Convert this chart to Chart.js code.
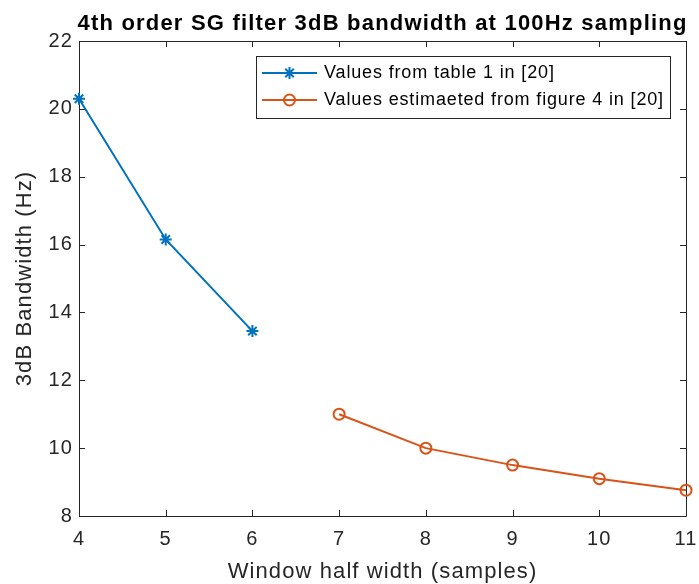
<!DOCTYPE html>
<html>
<head>
<meta charset="utf-8">
<title>SG filter bandwidth</title>
<script src="https://cdn.jsdelivr.net/npm/chart.js@4.4.1/dist/chart.umd.min.js"></script>
<style>
  html, body { margin: 0; padding: 0; background: #fff; }
  canvas { display: block; }
</style>
</head>
<body>
<canvas id="chart" width="699" height="584"></canvas>
<script>
const titleText = "4th order SG filter 3dB bandwidth at 100Hz sampling";
const xLabel = "Window half width (samples)";
const yLabel = "3dB Bandwidth (Hz)";
const seriesLabels = ["Values from table 1 in [20]", "Values estimaeted from figure 4 in [20]"];

// bandwidths listed in table 1
const tableHalfWidth = [4, 5, 6];
const tableBandwidth = [20.3, 16.15, 13.45];
// bandwidths
const figureHalfWidth = [7, 8, 9, 10, 11];
const figureBandwidth = [11.0, 10.0, 9.5, 9.1, 8.76];

const xTicks = [4, 5, 6, 7, 8, 9, 10, 11];
const yTicks = [8, 10, 12, 14, 16, 18, 20, 22];

const blue = "#0072BD";
const orange = "#D95319";
const axisGray = "#262626";
const fontFamily = '"Liberation Sans", Arial, Helvetica, sans-serif';

const toPoints = (xs, ys) => xs.map((x, i) => ({ x: x, y: ys[i] }));

// wider letter spacing for the scale text
const spacing = {
  id: "spacing",
  beforeLayout(chart) { chart.ctx.letterSpacing = "1.1px"; },
  beforeDraw(chart) { chart.ctx.letterSpacing = "1.1px"; }
};

// boxed axes with inward ticks on all four sides
const axesBox = {
  id: "axesBox",
  beforeDatasetsDraw(chart) {
    const { ctx, chartArea: a, scales: { x, y } } = chart;
    const len = 6;
    ctx.save();
    ctx.strokeStyle = axisGray;
    ctx.lineWidth = 1;
    ctx.beginPath();
    ctx.rect(Math.round(a.left) + 0.5, Math.round(a.top) + 0.5,
             Math.round(a.right - a.left), Math.round(a.bottom - a.top));
    x.ticks.forEach(t => {
      const px = Math.round(x.getPixelForValue(t.value)) + 0.5;
      ctx.moveTo(px, a.bottom); ctx.lineTo(px, a.bottom - len);
      ctx.moveTo(px, a.top); ctx.lineTo(px, a.top + len);
    });
    y.ticks.forEach(t => {
      const py = Math.round(y.getPixelForValue(t.value)) + 0.5;
      ctx.moveTo(a.left, py); ctx.lineTo(a.left + len, py);
      ctx.moveTo(a.right, py); ctx.lineTo(a.right - len, py);
    });
    ctx.stroke();
    ctx.restore();
  }
};

// title centred over the plot area
const plotTitle = {
  id: "plotTitle",
  afterDraw(chart) {
    const { ctx, chartArea: a } = chart;
    ctx.save();
    ctx.letterSpacing = "1.2px";
    ctx.font = "bold 22px " + fontFamily;
    ctx.fillStyle = "#000";
    ctx.textAlign = "center";
    ctx.textBaseline = "middle";
    ctx.fillText(titleText, (a.left + a.right) / 2, 24);
    ctx.restore();
  }
};

// boxed legend in the upper right corner
const boxLegend = {
  id: "boxLegend",
  afterDraw(chart) {
    const { ctx, chartArea: a } = chart;
    ctx.save();
    ctx.letterSpacing = "0.85px";
    ctx.font = "18px " + fontFamily;
    const textW = Math.max(...chart.data.datasets.map(d => ctx.measureText(d.label).width));
    const pad = 6, sample = 55, gap = 7, rowH = 27;
    const w = pad + sample + gap + textW + pad;
    const h = 62;
    const right = Math.round(a.right - 16);
    const left = Math.round(right - w);
    const top = Math.round(a.top + 15);
    ctx.fillStyle = "#fff";
    ctx.fillRect(left, top, right - left, h);
    ctx.strokeStyle = axisGray;
    ctx.lineWidth = 1;
    ctx.strokeRect(left + 0.5, top + 0.5, right - left, h);
    chart.data.datasets.forEach((d, i) => {
      const cy = top + 17 + i * rowH;
      const sx = left + pad;
      ctx.strokeStyle = d.borderColor;
      ctx.lineWidth = d.borderWidth;
      ctx.beginPath();
      ctx.moveTo(sx, cy);
      ctx.lineTo(sx + sample, cy);
      ctx.stroke();
      ctx.fillStyle = d.pointBackgroundColor;
      ctx.strokeStyle = d.pointBorderColor;
      Chart.helpers.drawPoint(ctx, {
        pointStyle: d.pointStyle,
        radius: d.pointRadius,
        borderWidth: d.pointBorderWidth
      }, sx + sample / 2, cy);
      ctx.fillStyle = "#000";
      ctx.textAlign = "left";
      ctx.textBaseline = "middle";
      ctx.fillText(d.label, sx + sample + gap, cy);
    });
    ctx.restore();
  }
};

new Chart(document.getElementById("chart"), {
  type: "line",
  plugins: [spacing, axesBox, plotTitle, boxLegend],
  data: {
    datasets: [
      {
        label: seriesLabels[0],
        data: toPoints(tableHalfWidth, tableBandwidth),
        borderColor: blue,
        backgroundColor: blue,
        borderWidth: 2,
        pointStyle: "star",
        pointRadius: 6,
        pointBorderWidth: 2,
        pointBorderColor: blue,
        pointBackgroundColor: blue,
        clip: false
      },
      {
        label: seriesLabels[1],
        data: toPoints(figureHalfWidth, figureBandwidth),
        borderColor: orange,
        backgroundColor: "transparent",
        borderWidth: 2,
        pointStyle: "circle",
        pointRadius: 5.5,
        pointBorderWidth: 2,
        pointBorderColor: orange,
        pointBackgroundColor: "transparent",
        clip: false
      }
    ]
  },
  options: {
    responsive: false,
    animation: false,
    layout: { padding: { top: 41, right: 13, bottom: 0, left: 0 } },
    plugins: {
      legend: { display: false },
      tooltip: { enabled: false },
      title: { display: false }
    },
    scales: {
      x: {
        type: "linear",
        min: 4,
        max: 11,
        afterBuildTicks: s => { s.ticks = xTicks.map(v => ({ value: v })); },
        afterFit: s => { s.height = 68; s.paddingLeft = 0; s.paddingRight = 0; },
        grid: { display: false, drawTicks: false },
        border: { display: false },
        ticks: {
          padding: 11,
          color: axisGray,
          font: { family: fontFamily, size: 20, lineHeight: 1.2 }
        },
        title: {
          display: true,
          text: xLabel,
          color: axisGray,
          padding: { top: 0, bottom: 1 },
          font: { family: fontFamily, size: 22, lineHeight: 1.0 }
        }
      },
      y: {
        type: "linear",
        min: 8,
        max: 22,
        afterBuildTicks: s => { s.ticks = yTicks.map(v => ({ value: v })); },
        afterFit: s => { s.width = 79; s.paddingTop = 0; s.paddingBottom = 0; },
        grid: { display: false, drawTicks: false },
        border: { display: false },
        ticks: {
          padding: 6,
          color: axisGray,
          font: { family: fontFamily, size: 20, lineHeight: 1.2 }
        },
        title: {
          display: true,
          text: yLabel,
          color: axisGray,
          padding: { top: 14, bottom: 0 },
          font: { family: fontFamily, size: 22, lineHeight: 1.0 }
        }
      }
    }
  }
});
</script>
</body>
</html>
